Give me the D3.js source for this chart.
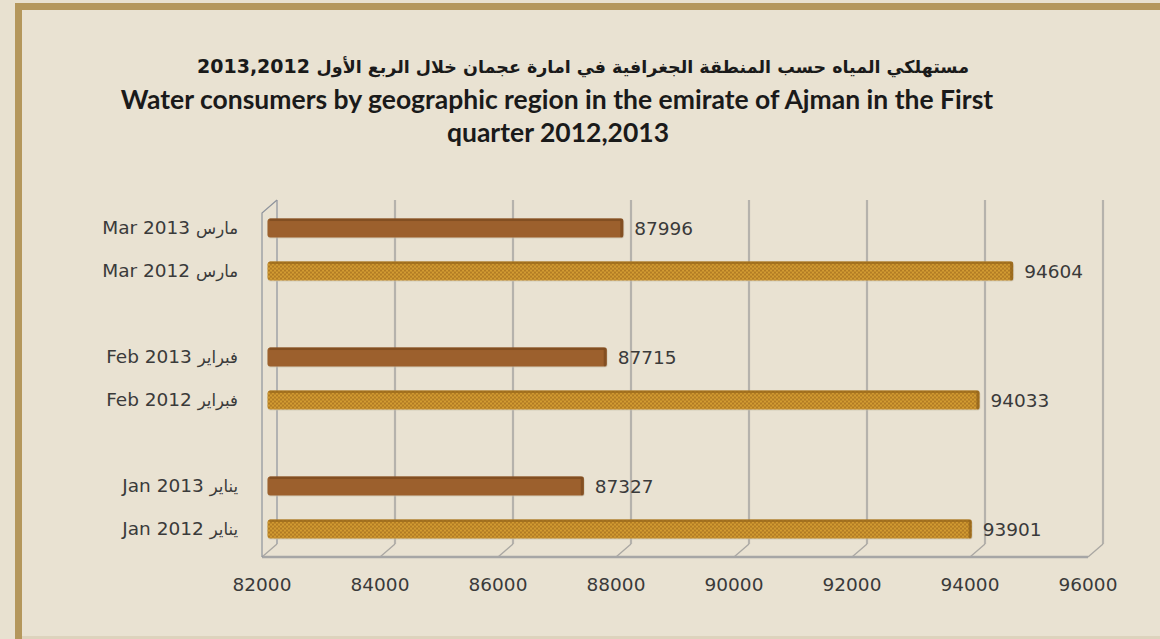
<!DOCTYPE html>
<html><head><meta charset="utf-8">
<script src="https://cdn.jsdelivr.net/npm/d3@7"></script>
<style>
html,body{margin:0;padding:0;background:#e8e1d0;}
svg{display:block;}
</style></head>
<body>
<svg id="c" width="1160" height="639"></svg>
<script>
// ---- data ----
const months = ["Mar", "Feb", "Jan"];
const monthsAr = ["مارس", "فبراير", "يناير"];
const years = ["2013", "2012"];
const values2013 = [87996, 87715, 87327];
const values2012 = [94604, 94033, 93901];
const xTicks = [82000, 84000, 86000, 88000, 90000, 92000, 94000, 96000];
const titleArText = "مستهلكي المياه حسب المنطقة الجغرافية في امارة عجمان خلال الربع الأول";
const titleArYears = "2013,2012";
const titleEn1 = "Water consumers by geographic region in the emirate of Ajman in the First";
const titleEn2 = "quarter 2012,2013";

const rows = [];
months.forEach((m, i) => {
  rows.push({month: m, ar: monthsAr[i], year: "2013", value: values2013[i]});
  rows.push({month: m, ar: monthsAr[i], year: "2012", value: values2012[i]});
});

const svg = d3.select("#c");
const W = 1160, H = 639;

// background and frame
svg.append("rect").attr("width", W).attr("height", H).attr("fill", "#e8e1d0");
svg.append("rect").attr("x", 18.5).attr("y", 6.5).attr("width", W + 20).attr("height", 700)
  .attr("fill", "#e9e2d2").attr("stroke", "#b4975c").attr("stroke-width", 7);
svg.append("rect").attr("x", 22).attr("y", 636).attr("width", W).attr("height", 3).attr("fill", "#ddd3bd");

// pattern for 2012
const defs = svg.append("defs");
const pat = defs.append("pattern").attr("id", "dots").attr("patternUnits", "userSpaceOnUse")
  .attr("width", 4).attr("height", 4);
pat.append("rect").attr("width", 4).attr("height", 4).attr("fill", "#d39c32");
pat.append("circle").attr("cx", 1).attr("cy", 1).attr("r", 1.1).attr("fill", "#ad7722");
pat.append("circle").attr("cx", 3).attr("cy", 3).attr("r", 1.1).attr("fill", "#ad7722");

// scales (mid-depth)
const dx = 7.5, dy = 6.5; // half depth offset
const x = d3.scaleLinear().domain([82000, 96000]).range([269.5, 1095.5]);
const yOuter = d3.scaleBand().domain(months).range([206.5, 550.5]).paddingInner(1/3).paddingOuter(0);
const yInner = d3.scaleBand().domain(years).range([0, yOuter.bandwidth()]).paddingInner(0.56).paddingOuter(0.28);

const g = svg.append("g");
const backTop = yOuter.range()[0] - dy, backBot = yOuter.range()[1] - dy;
const frontTop = yOuter.range()[0] + dy, frontBot = yOuter.range()[1] + dy;

// back wall gridlines
g.selectAll("line.grid").data(xTicks).join("line")
  .attr("x1", d => x(d) + dx).attr("x2", d => x(d) + dx)
  .attr("y1", backTop).attr("y2", backBot)
  .attr("stroke", d => d === 82000 ? "#8e939c" : "#b5b2ac").attr("stroke-width", d => d === 82000 ? 1.2 : 2.2);
// floor diagonals
g.selectAll("line.fd").data(xTicks).join("line")
  .attr("x1", d => x(d) + dx).attr("x2", d => x(d) - dx)
  .attr("y1", backBot).attr("y2", frontBot)
  .attr("stroke", "#a9a7a2").attr("stroke-width", 1.3);
// floor front edge
g.append("line").attr("x1", x(82000) - dx).attr("x2", x(96000) - dx)
  .attr("y1", frontBot).attr("y2", frontBot).attr("stroke", "#a6a6a6").attr("stroke-width", 2.5);
// left wall
g.append("path")
  .attr("d", `M${x(82000) - dx},${frontBot} L${x(82000) - dx},${frontTop} L${x(82000) + dx},${backTop}`)
  .attr("fill", "none").attr("stroke", "#8e939c").attr("stroke-width", 1.2);

// bars
const bars = g.selectAll("g.bar").data(rows).join("g")
  .attr("transform", d => `translate(0,${yOuter(d.month) + yInner(d.year)})`);
const bh = yInner.bandwidth();
bars.append("rect")
  .attr("x", x(82000) - 2).attr("y", 1)
  .attr("width", d => x(d.value) - x(82000) + 3).attr("height", bh)
  .attr("rx", 3).attr("fill", "#c9c1ae").attr("opacity", 0.6);
bars.append("rect")
  .attr("x", x(82000) - 2).attr("y", 0)
  .attr("width", d => x(d.value) - x(82000) + 2).attr("height", bh)
  .attr("rx", 3)
  .attr("fill", d => d.year === "2013" ? "#9c602d" : "url(#dots)");
bars.append("rect")
  .attr("x", x(82000)).attr("y", 0)
  .attr("width", d => x(d.value) - x(82000) - 2).attr("height", 2.5)
  .attr("fill", d => d.year === "2013" ? "#7d4b1f" : "#9b6a1c").attr("opacity", 0.8);
bars.append("rect")
  .attr("x", d => x(d.value) - 3).attr("y", 0)
  .attr("width", 3).attr("height", bh).attr("rx", 1.5)
  .attr("fill", d => d.year === "2013" ? "#7d4b1f" : "#94641b").attr("opacity", 0.8);

// value labels
bars.append("text")
  .attr("x", d => x(d.value) + 11).attr("y", bh / 2).attr("dy", "0.36em")
  .attr("font-family", "DejaVu Sans").attr("font-size", 18.5).attr("fill", "#3a3a3a")
  .text(d => d.value);

// category labels
const cl = bars.append("text")
  .attr("x", 238).attr("y", bh / 2).attr("dy", "0.36em")
  .attr("text-anchor", "end")
  .attr("font-family", "DejaVu Sans").attr("fill", "#3a3a3a");
cl.append("tspan").attr("font-size", 18.5).text(d => `${d.month} ${d.year} `);
cl.append("tspan").attr("font-size", 16.5).text(d => d.ar);

// x axis tick labels (front)
svg.append("g").selectAll("text").data(xTicks).join("text")
  .attr("x", d => x(d) - dx).attr("y", 591)
  .attr("text-anchor", "middle")
  .attr("font-family", "DejaVu Sans").attr("font-size", 18.5).attr("fill", "#3a3a3a")
  .text(d => d);

// titles
const tAr = svg.append("text").attr("x", 197).attr("y", 73).attr("text-anchor", "start")
  .attr("font-family", "DejaVu Sans").attr("font-weight", "bold").attr("font-size", 17.5)
  .attr("fill", "#1a1a1a");
tAr.append("tspan").attr("font-size", 19).text(titleArYears + " ");
tAr.append("tspan").text("\u202B" + titleArText + "\u202C");
svg.append("text").attr("x", 557).attr("y", 109).attr("text-anchor", "middle")
  .attr("font-family", "Lato").attr("font-weight", "bold").attr("font-size", 26.5)
  .attr("fill", "#1a1a1a").text(titleEn1);
svg.append("text").attr("x", 558).attr("y", 142).attr("text-anchor", "middle")
  .attr("font-family", "Lato").attr("font-weight", "bold").attr("font-size", 26.5)
  .attr("fill", "#1a1a1a").text(titleEn2);
</script>
</body></html>
